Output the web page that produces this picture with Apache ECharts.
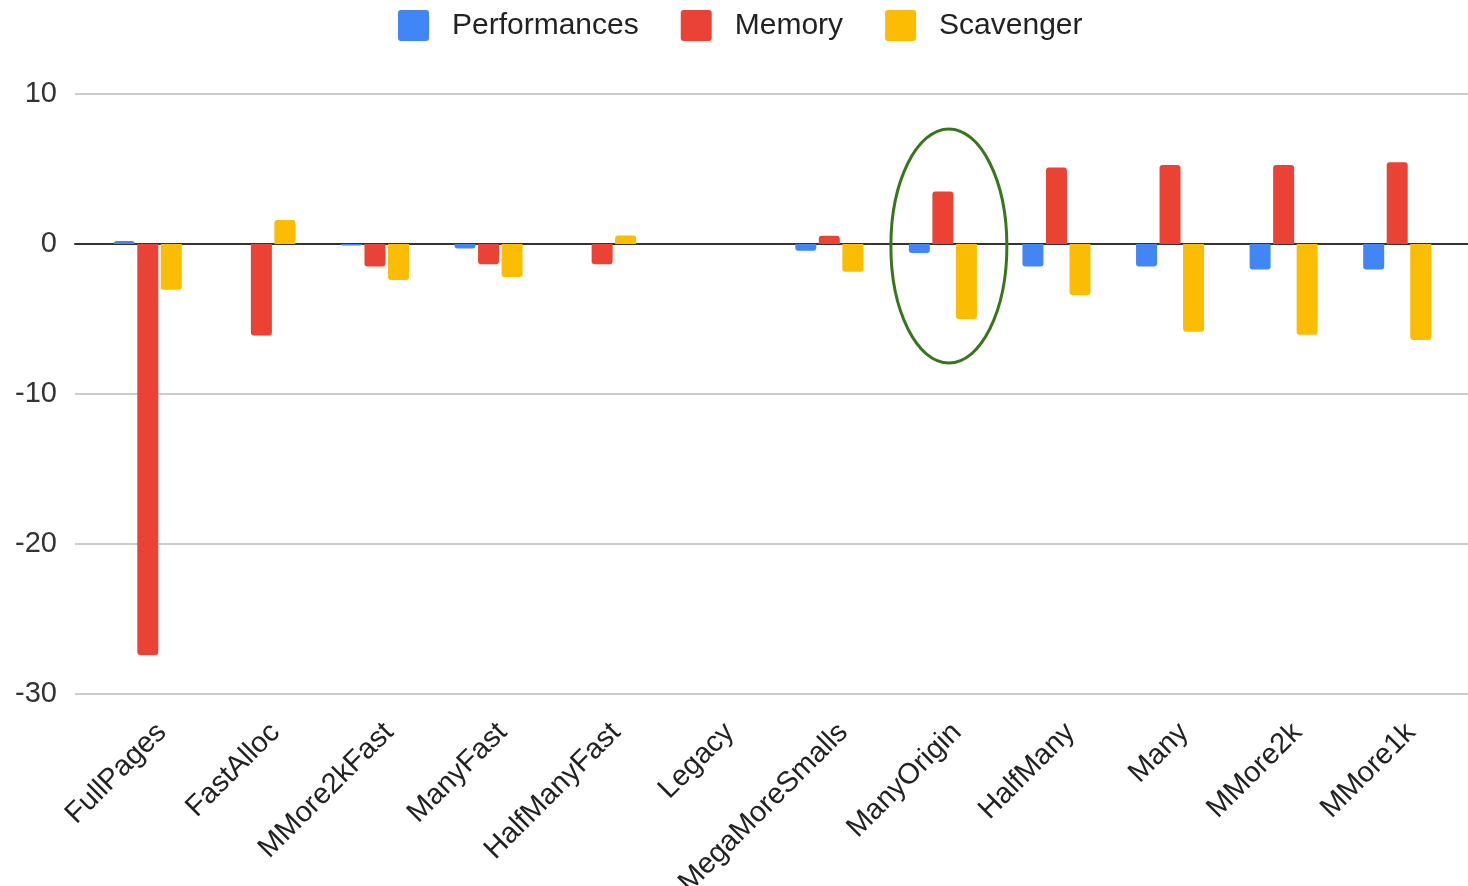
<!DOCTYPE html>
<html>
<head>
<meta charset="utf-8">
<script src="https://cdn.jsdelivr.net/npm/echarts@6/dist/echarts.min.js"></script>
<style>
html,body{margin:0;padding:0;background:#fff;}
#chart{width:1468px;height:886px;}
</style>
</head>
<body>
<div id="chart"></div>
<script>
const categories = ['FullPages','FastAlloc','MMore2kFast','ManyFast','HalfManyFast','Legacy','MegaMoreSmalls','ManyOrigin','HalfMany','Many','MMore2k','MMore1k'];
const performances = [0.2, 0, -0.1, -0.3, 0, 0, -0.45, -0.6, -1.5, -1.5, -1.7, -1.7];
const memory = [-27.4, -6.1, -1.5, -1.35, -1.35, 0, 0.55, 3.5, 5.1, 5.27, 5.27, 5.45];
const scavenger = [-3.05, 1.6, -2.4, -2.2, 0.57, 0, -1.85, -5.0, -3.4, -5.85, -6.05, -6.4];
const yTicks = [-30, -20, -10, 0, 10];
const highlighted = 'ManyOrigin';

const FONT = '"Liberation Sans", Arial, sans-serif';
const chart = echarts.init(document.getElementById('chart'), null, {renderer: 'canvas'});

function barData(vals) {
  return vals.map(v => ({
    value: v,
    itemStyle: {borderRadius: v >= 0 ? [3, 3, 0, 0] : [0, 0, 3, 3]}
  }));
}

const yMin = yTicks[0], yMax = yTicks[yTicks.length - 1];
const series = [
  {name: 'Performances', color: '#4285f4', data: performances},
  {name: 'Memory', color: '#ea4335', data: memory},
  {name: 'Scavenger', color: '#fbbc04', data: scavenger}
].map(s => ({
  name: s.name, type: 'bar', xAxisIndex: 1, yAxisIndex: 1,
  data: barData(s.data), barWidth: 21, barGap: '12%',
  itemStyle: {color: s.color}, emphasis: {disabled: true}
}));

const gridBase = {top: 94, bottom: 192, containLabel: false, outerBoundsMode: 'none'};
const option = {
  animation: false,
  backgroundColor: '#fff',
  textStyle: {fontFamily: FONT},
  legend: {
    top: 5, left: 393,
    itemWidth: 31, itemHeight: 31, itemGap: 42,
    icon: 'path://M3,0H28Q31,0 31,3V28Q31,31 28,31H3Q0,31 0,28V3Q0,0 3,0Z',
    textStyle: {fontSize: 30, color: '#222', fontFamily: FONT, padding: [0, 0, 0, 18]},
    data: ['Performances', 'Memory', 'Scavenger']
  },
  grid: [
    Object.assign({left: 75, right: 0}, gridBase),
    Object.assign({left: 91, right: 14}, gridBase),
    Object.assign({left: 105, right: 0}, gridBase)
  ],
  xAxis: [
    {type: 'category', gridIndex: 0, data: categories,
     axisLine: {show: true, onZero: true, lineStyle: {color: '#333', width: 2}},
     axisTick: {show: false}, axisLabel: {show: false}, splitLine: {show: false}},
    {type: 'category', gridIndex: 1, data: categories,
     axisLine: {show: false}, axisTick: {show: false}, axisLabel: {show: false}},
    {type: 'category', gridIndex: 2, data: categories, position: 'bottom',
     axisLine: {show: false, onZero: false}, axisTick: {show: false},
     axisLabel: {show: true, interval: 0, rotate: 45, margin: 34, fontSize: 29, color: '#222', fontFamily: FONT}}
  ],
  yAxis: [
    {type: 'value', gridIndex: 0, min: yMin, max: yMax, interval: 10,
     axisLine: {show: false}, axisTick: {show: false},
     axisLabel: {fontSize: 29, color: '#333', margin: 18, fontFamily: FONT},
     splitLine: {lineStyle: {color: '#cccccc', width: 2}}},
    {type: 'value', gridIndex: 1, min: yMin, max: yMax, interval: 10, show: false, splitLine: {show: false}},
    {type: 'value', gridIndex: 2, min: yMin, max: yMax, interval: 10, show: false, splitLine: {show: false}}
  ],
  series: series
};
chart.setOption(option);

const center = chart.convertToPixel({xAxisIndex: 1, yAxisIndex: 1}, [highlighted, 0]);
const upper = chart.convertToPixel({xAxisIndex: 1, yAxisIndex: 1}, [highlighted, 7.8]);
const ellipseRy = center[1] - upper[1];
chart.setOption({
  graphic: [{
    type: 'ellipse', z: 100,
    shape: {cx: center[0] + 6, cy: center[1] + 2, rx: 58, ry: ellipseRy},
    style: {fill: null, stroke: '#38761d', lineWidth: 3}
  }]
});
</script>
</body>
</html>
